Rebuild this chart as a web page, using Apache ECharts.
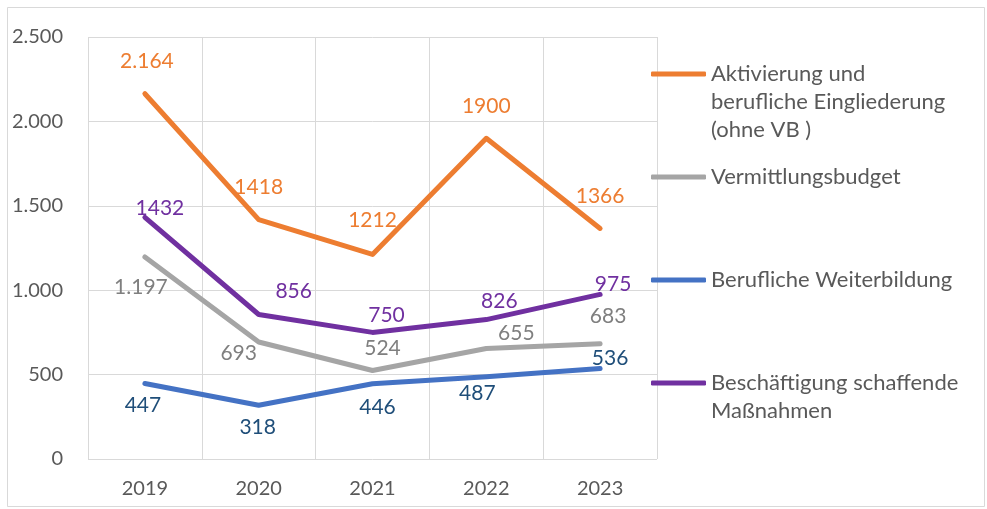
<!DOCTYPE html>
<html>
<head>
<meta charset="utf-8">
<script src="https://cdn.jsdelivr.net/npm/echarts@6/dist/echarts.min.js"></script>
<style>
  html, body { margin: 0; padding: 0; background: #fff; }
  #chart { width: 987px; height: 509px; }
</style>
</head>
<body>
<div id="chart"></div>
<script>
// Kategorien (Jahre)
const years = ['2019', '2020', '2021', '2022', '2023'];

// Werte je Maßnahme
const aktivierung = [2164, 1418, 1212, 1900, 1366];
const vermittlung = [1197, 693, 524, 655, 683];
const weiterbildung = [447, 318, 446, 487, 536];
const beschaeftigung = [1432, 856, 750, 826, 975];

// Beschriftungen wie im Original (teils mit Tausenderpunkt)
const aktivierungLabels = ['2.164', '1418', '1212', '1900', '1366'];
const vermittlungLabels = ['1.197', '693', '524', '655', '683'];
const weiterbildungLabels = ['447', '318', '446', '487', '536'];
const beschaeftigungLabels = ['1432', '856', '750', '826', '975'];

// Achsenbeschriftung
const yTicks = ['0', '500', '1.000', '1.500', '2.000', '2.500'];

// Lage der Datenbeschriftungen (px, relativ zum Punkt)
const aktivierungOffsets = [[2, -32], [0, -32], [0, -34], [0, -32], [0, -32]];
const vermittlungOffsets = [[-4, 30], [-20, 11], [10, -22], [30, -15], [8, -27]];
const weiterbildungOffsets = [[-2, 22], [-1, 22], [5, 24], [-9, 16], [10, -10]];
const beschaeftigungOffsets = [[15, -9], [35, -23], [14, -17], [13, -18], [13, -10]];

const FONT = 'Lato';
const TEXT = '#595959';
const GRID = '#D9D9D9';

function buildData(values, labels, offsets, color) {
  return values.map(function (v, i) {
    return {
      value: v,
      label: {
        formatter: labels[i],
        offset: offsets[i],
        color: color
      }
    };
  });
}

function lineSeries(name, color, labelColor, values, labels, offsets) {
  return {
    name: name,
    type: 'line',
    data: buildData(values, labels, offsets, labelColor),
    symbol: 'circle',
    symbolSize: 1,
    showSymbol: true,
    itemStyle: { color: color },
    lineStyle: { color: color, width: 5, cap: 'round', join: 'round' },
    label: {
      show: true,
      position: 'inside',
      fontFamily: FONT,
      fontSize: 21
    },
    emphasis: { disabled: true },
    animation: false
  };
}

const names = [
  'Aktivierung und\nberufliche Eingliederung\n(ohne VB )',
  'Vermittlungsbudget',
  'Berufliche Weiterbildung',
  'Beschäftigung schaffende\nMaßnahmen'
];

// Legende: erste Zeile auf Höhe des Symbols (Leerzeilen davor gleichen aus)
function legendFor(name, top) {
  const extra = name.split('\n').length - 1;
  return {
    data: [{ name: name, icon: 'roundRect' }],
    orient: 'vertical',
    left: 651,
    top: top,
    padding: 0,
    itemWidth: 55,
    itemHeight: 5,
    selectedMode: false,
    formatter: function (n) { return '\n'.repeat(extra) + n; },
    textStyle: {
      color: TEXT,
      fontFamily: FONT,
      fontSize: 22,
      lineHeight: 28
    }
  };
}

const chart = echarts.init(document.getElementById('chart'));
chart.setOption({
  backgroundColor: '#fff',
  textStyle: { fontFamily: FONT },
  grid: { left: 88, top: 37, right: 330, bottom: 50, containLabel: false },
  graphic: [{
    type: 'rect',
    shape: { x: 7.5, y: 7.5, width: 977, height: 499 },
    style: { fill: 'none', stroke: GRID, lineWidth: 1 },
    silent: true
  }],
  legend: [
    legendFor(names[0], 4),
    legendFor(names[1], 163),
    legendFor(names[2], 266),
    legendFor(names[3], 341)
  ],
  xAxis: {
    type: 'category',
    data: years,
    boundaryGap: true,
    axisLine: { show: false },
    axisTick: { show: false },
    splitLine: { show: true, lineStyle: { color: GRID, width: 1 } },
    axisLabel: { color: TEXT, fontFamily: FONT, fontSize: 20, margin: 20 }
  },
  yAxis: {
    type: 'value',
    min: 0,
    max: 2500,
    interval: 500,
    axisLine: { show: false },
    axisTick: { show: false },
    splitLine: { show: true, lineStyle: { color: GRID, width: 1 } },
    axisLabel: {
      color: TEXT,
      fontFamily: FONT,
      fontSize: 20,
      margin: 25,
      formatter: function (v) { return yTicks[Math.round(v / 500)]; }
    }
  },
  series: [
    lineSeries(names[0], '#ED7D31', '#ED7D31', aktivierung, aktivierungLabels, aktivierungOffsets),
    lineSeries(names[1], '#A5A5A5', '#7F7F7F', vermittlung, vermittlungLabels, vermittlungOffsets),
    lineSeries(names[2], '#4472C4', '#1F4E79', weiterbildung, weiterbildungLabels, weiterbildungOffsets),
    lineSeries(names[3], '#7030A0', '#7030A0', beschaeftigung, beschaeftigungLabels, beschaeftigungOffsets)
  ]
});
</script>
</body>
</html>
